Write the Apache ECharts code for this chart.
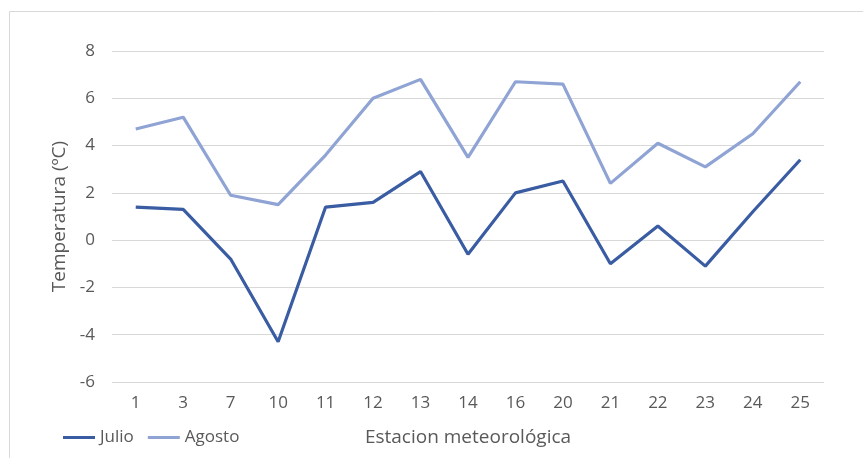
<!DOCTYPE html>
<html>
<head>
<meta charset="utf-8">
<script src="https://cdn.jsdelivr.net/npm/echarts@6/dist/echarts.min.js"></script>
<style>html,body{margin:0;padding:0;background:#fff}#c{width:863px;height:458px}</style>
</head>
<body>
<div id="c"></div>
<script>
var categories = ['1','3','7','10','11','12','13','14','16','20','21','22','23','24','25'];
var julio = [1.4, 1.3, -0.8, -4.3, 1.4, 1.6, 2.9, -0.6, 2.0, 2.5, -1.0, 0.6, -1.1, 1.2, 3.4];
var agosto = [4.7, 5.2, 1.9, 1.5, 3.6, 6.0, 6.8, 3.5, 6.7, 6.6, 2.4, 4.1, 3.1, 4.5, 6.7];
var seriesNames = ['Julio', 'Agosto'];
var yTicks = {min: -6, max: 8, interval: 2};

var chart = echarts.init(document.getElementById('c'), null, {renderer: 'canvas'});
var font = 'Open Sans, Noto Sans, sans-serif';
chart.setOption({
  animation: false,
  backgroundColor: '#ffffff',
  graphic: [{
    type: 'rect', left: 7, top: 9, shape: {width: 900, height: 500},
    style: {fill: 'none', stroke: '#d9d9d9', lineWidth: 1}, silent: true
  }],
  grid: {left: 112, right: 39, top: 51, bottom: 76, containLabel: false},
  legend: {
    left: 58, bottom: 7, itemWidth: 32, itemHeight: 3, itemGap: 14,
    icon: 'rect',
    textStyle: {color: '#595959', fontSize: 17, fontFamily: font},
    data: seriesNames
  },
  xAxis: {
    type: 'category', data: categories, boundaryGap: true,
    name: 'Estacion meteorológica', nameLocation: 'middle', nameGap: 46,
    nameTextStyle: {color: '#595959', fontSize: 19, fontFamily: font},
    axisLine: {show: false}, axisTick: {show: false},
    axisLabel: {color: '#595959', fontSize: 17, fontFamily: font, margin: 13}
  },
  yAxis: {
    type: 'value', min: yTicks.min, max: yTicks.max, interval: yTicks.interval,
    name: 'Temperatura (ºC)', nameLocation: 'middle', nameGap: 40,
    nameTextStyle: {color: '#595959', fontSize: 19, fontFamily: font},
    axisLine: {show: false}, axisTick: {show: false},
    axisLabel: {color: '#595959', fontSize: 17, fontFamily: font, margin: 17},
    splitLine: {lineStyle: {color: '#d9d9d9', width: 1}}
  },
  series: [
    {name: seriesNames[0], type: 'line', data: julio, symbol: 'none',
     lineStyle: {color: '#3a5ca3', width: 3.2}, itemStyle: {color: '#3a5ca3'}},
    {name: seriesNames[1], type: 'line', data: agosto, symbol: 'none',
     lineStyle: {color: '#8fa3d4', width: 3.2}, itemStyle: {color: '#8fa3d4'}}
  ]
});
</script>
</body>
</html>
